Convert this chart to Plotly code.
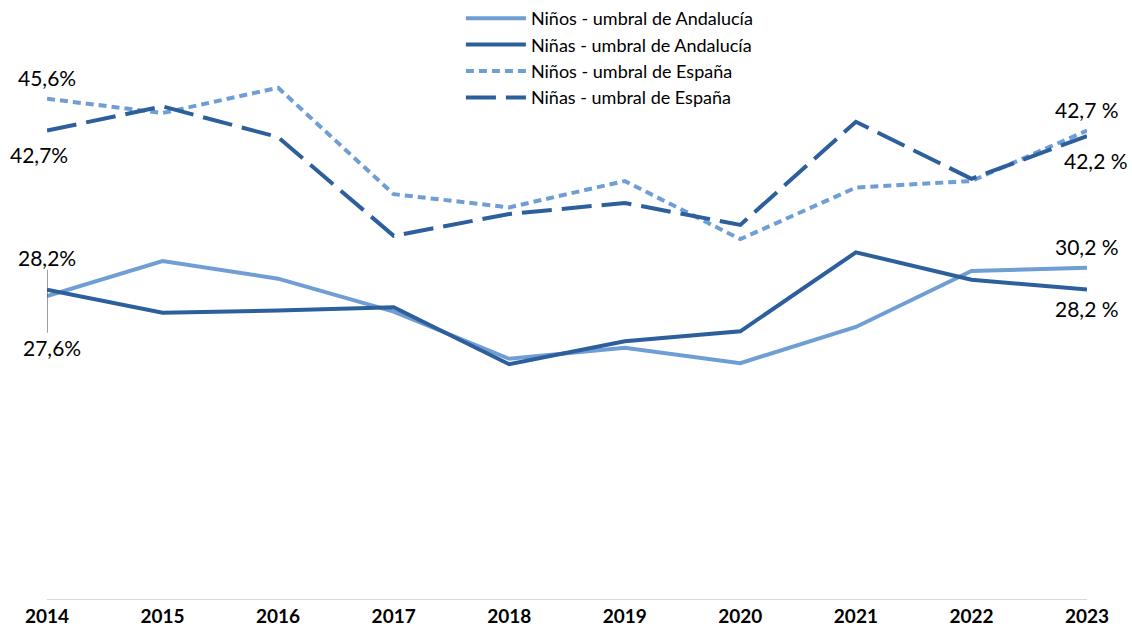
import plotly.graph_objects as go

years = ["2014", "2015", "2016", "2017", "2018", "2019", "2020", "2021", "2022", "2023"]

ninos_andalucia = [27.6, 30.8, 29.2, 26.2, 21.9, 22.9, 21.5, 24.8, 29.9, 30.2]
ninas_andalucia = [28.2, 26.1, 26.3, 26.6, 21.4, 23.5, 24.4, 31.6, 29.1, 28.2]
ninos_espana = [45.6, 44.3, 46.6, 36.9, 35.7, 38.1, 32.8, 37.5, 38.1, 42.7]
ninas_espana = [42.7, 44.9, 42.1, 33.1, 35.1, 36.1, 34.1, 43.5, 38.3, 42.2]

LIGHT = "#6F9ED4"
DARK = "#2C5F9C"
FONT = "Lato"

series = [
    ("Niños - umbral de Andalucía", ninos_andalucia, LIGHT, "solid"),
    ("Niñas - umbral de Andalucía", ninas_andalucia, DARK, "solid"),
    ("Niños - umbral de España", ninos_espana, LIGHT, "8px,5px"),
    ("Niñas - umbral de España", ninas_espana, DARK, "30px,10px"),
]

x_idx = list(range(len(years)))

fig = go.Figure()
for name, vals, color, dash in series:
    fig.add_trace(
        go.Scatter(
            x=x_idx,
            y=vals,
            mode="lines",
            name=name,
            line=dict(color=color, width=4, dash=dash),
            cliponaxis=False,
        )
    )


def fmt(v, space=False):
    s = f"{v:.1f}".replace(".", ",")
    return s + (" %" if space else "%")


first, last = 0, len(years) - 1
# (x index, value, text, x shift px, y shift px)
labels = [
    (first, ninos_espana[0], fmt(ninos_espana[0]), 0, 21),
    (first, ninas_espana[0], fmt(ninas_espana[0]), -8, -24),
    (first, ninas_andalucia[0], fmt(ninas_andalucia[0]), 0, 32),
    (first, ninos_andalucia[0], fmt(ninos_andalucia[0]), 5, -51),
    (last, ninos_espana[-1], fmt(ninos_espana[-1], True), 0, 21),
    (last, ninas_espana[-1], fmt(ninas_espana[-1], True), 9, -24),
    (last, ninos_andalucia[-1], fmt(ninos_andalucia[-1], True), 0, 21),
    (last, ninas_andalucia[-1], fmt(ninas_andalucia[-1], True), 0, -19),
]
for xi, v, txt, dx, dy in labels:
    fig.add_annotation(
        x=xi, y=v, text=txt, showarrow=False, xshift=dx, yshift=dy,
        font=dict(family=FONT, size=21, color="#000000"),
    )

# leader line for the 2014 Andalucía labels
fig.add_shape(
    type="line", xref="x", yref="y", ysizemode="pixel",
    x0=first, x1=first, yanchor=ninas_andalucia[0], y0=20, y1=-43,
    line=dict(color="#404040", width=1),
)

fig.update_layout(
    width=1132,
    height=627,
    margin=dict(l=47, r=45, t=0, b=28),
    plot_bgcolor="white",
    paper_bgcolor="white",
    font=dict(family=FONT, size=17, color="#000000"),
    showlegend=True,
    legend=dict(
        x=0.398, y=1.0, xanchor="left", yanchor="top",
        font=dict(family=FONT, size=18),
        itemwidth=60, tracegroupgap=0, bgcolor="rgba(0,0,0,0)",
    ),
    xaxis=dict(
        tickmode="array",
        tickvals=x_idx,
        ticktext=years,
        range=[0, last],
        showgrid=False,
        zeroline=False,
        showline=True,
        linecolor="#D9D9D9",
        linewidth=1,
        ticks="",
        tickfont=dict(family=FONT, size=19, weight="bold"),
    ),
    yaxis=dict(
        range=[0, 54.6],
        visible=False,
        showgrid=False,
        zeroline=False,
    ),
)

fig.write_html(
    "out.html",
    config={"displayModeBar": False},
    post_script="document.body.style.margin='0';",
)
